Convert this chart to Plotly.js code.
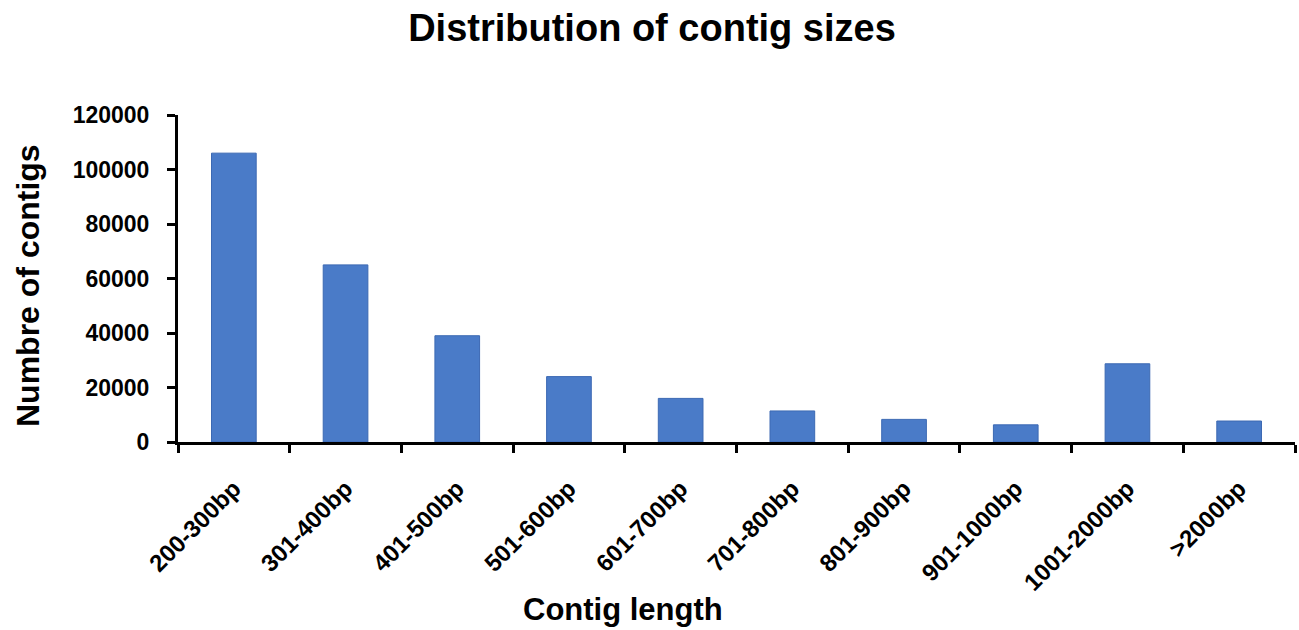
<!DOCTYPE html>
<html>
<head>
<meta charset="utf-8">
<script src="https://cdn.plot.ly/plotly-3.0.1.min.js"></script>
<style>
  html, body { margin: 0; padding: 0; background: #ffffff; }
  #chart { width: 1299px; height: 630px; }
</style>
</head>
<body>
<div id="chart"></div>
<script>
// Data
const categories = ["200-300bp", "301-400bp", "401-500bp", "501-600bp", "601-700bp",
                    "701-800bp", "801-900bp", "901-1000bp", "1001-2000bp", ">2000bp"];
const contigCounts = [106000, 65000, 39000, 24000, 16000, 11400, 8300, 6300, 28700, 7700];
const yTickValues = [0, 20000, 40000, 60000, 80000, 100000, 120000];
const yTickLabels = ["0", "20000", "40000", "60000", "80000", "100000", "120000"];

const chartTitle = "Distribution of contig sizes";
const xTitle = "Contig length";
const yTitle = "Numbre of contigs";

const FONT = "Liberation Sans, Arial, Helvetica, sans-serif";

const trace = {
  type: "bar",
  x: categories,
  y: contigCounts,
  marker: { color: "#4a7bc8", line: { color: "#3c69b3", width: 1 } },
  hoverinfo: "x+y"
};

const layout = {
  width: 1299,
  height: 630,
  paper_bgcolor: "#ffffff",
  plot_bgcolor: "#ffffff",
  margin: { l: 178, r: 4, t: 115, b: 188, pad: 0 },
  bargap: 0.6,
  showlegend: false,
  font: { family: FONT, color: "#000000" },
  title: {
    text: chartTitle,
    font: { family: FONT, size: 38, weight: "bold", color: "#000000" },
    x: 652 / 1299,
    xanchor: "center",
    xref: "container",
    y: 1 - 28 / 630,
    yanchor: "middle",
    yref: "container"
  },
  xaxis: {
    type: "category",
    showline: true,
    linecolor: "#000000",
    linewidth: 3,
    ticks: "outside",
    tickson: "boundaries",
    ticklen: 8,
    tickwidth: 3,
    tickcolor: "#000000",
    tickangle: -45,
    ticklabelstandoff: 20,
    tickfont: { family: FONT, size: 24, weight: "bold", color: "#000000" },
    showgrid: false,
    zeroline: false,
    fixedrange: true
  },
  yaxis: {
    range: [0, 120000],
    tickvals: yTickValues,
    ticktext: yTickLabels,
    showline: true,
    linecolor: "#000000",
    linewidth: 3,
    ticks: "outside",
    ticklen: 8,
    tickwidth: 3,
    tickcolor: "#000000",
    ticklabelstandoff: 13,
    tickfont: { family: FONT, size: 23, weight: "bold", color: "#000000" },
    showgrid: false,
    zeroline: false,
    fixedrange: true
  },
  annotations: [
    {
      text: xTitle,
      xref: "paper", yref: "paper",
      x: (623 - 178) / 1117,
      y: (442 - 609) / 327,
      xanchor: "center", yanchor: "middle",
      showarrow: false,
      font: { family: FONT, size: 31, weight: "bold", color: "#000000" }
    },
    {
      text: yTitle,
      xref: "paper", yref: "paper",
      x: (28 - 178) / 1117,
      y: (442 - 285) / 327,
      xanchor: "center", yanchor: "middle",
      textangle: -90,
      showarrow: false,
      font: { family: FONT, size: 32, weight: "bold", color: "#000000" }
    }
  ]
};

Plotly.newPlot("chart", [trace], layout, { displayModeBar: false, staticPlot: false });
</script>
</body>
</html>
